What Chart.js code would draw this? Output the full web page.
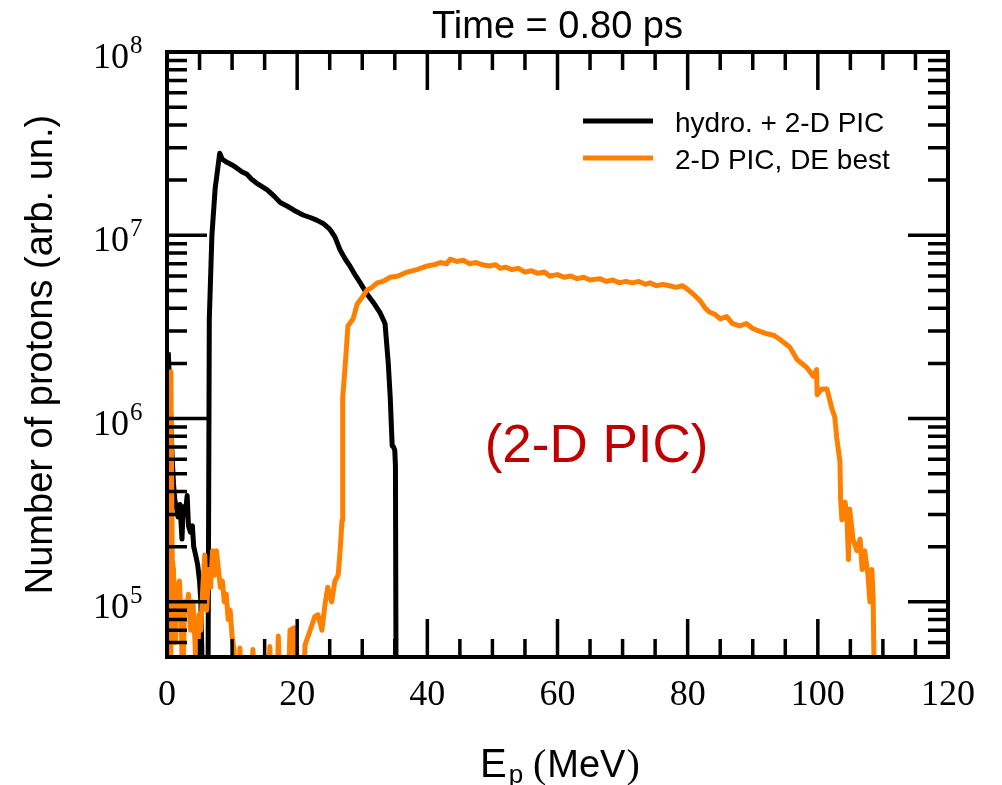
<!DOCTYPE html>
<html>
<head>
<meta charset="utf-8">
<title>Proton spectrum</title>
<script src="https://cdn.jsdelivr.net/npm/chart.js@4.4.0/dist/chart.umd.min.js"></script>
<style>
  html, body { margin: 0; padding: 0; background: #fff; }
  canvas { display: block; }
</style>
</head>
<body>
<canvas id="spectrum" width="1002" height="785"></canvas>
<script>
// energies in MeV, counts in arb. units (values below the axis floor are clipped)
const hydroE = [
  0.2, 0.5, 0.8, 1.0, 1.2, 1.5, 1.7, 2.0, 2.3, 2.5,
  2.8, 3.1, 3.3, 3.6, 3.9, 4.1, 4.4, 4.7, 5.0, 5.2,
  5.5, 6.3, 6.5, 6.9, 7.4, 8.1, 8.5, 9.2, 10.0, 10.7,
  11.5, 12.3, 13.0, 14.0, 15.4, 16.5, 17.4, 18.5, 19.5, 20.9,
  22.0, 23.0, 24.0, 25.0, 25.8, 26.6, 27.4, 28.1, 29.0, 29.7,
  30.7, 31.7, 32.7, 33.5, 34.0, 34.3, 34.6, 34.8, 35.0, 35.1,
  35.2
];
const hydroN = [
  2.3e6, 1.2e6, 6.0e5, 4.4e5, 3.6e5, 3.2e5, 2.9e5, 3.4e5, 2.2e5, 3.3e5,
  3.0e5, 3.8e5, 2.6e5, 2.4e5, 2.6e5, 2.0e5, 1.8e5, 1.6e5, 1.3e5, 1.0e5,
  3e4, 3e4, 3.5e6, 1.0e7, 1.8e7, 2.8e7, 2.6e7, 2.5e7, 2.42e7, 2.33e7,
  2.22e7, 2.15e7, 2.02e7, 1.9e7, 1.77e7, 1.63e7, 1.51e7, 1.44e7, 1.37e7, 1.29e7,
  1.25e7, 1.21e7, 1.16e7, 1.08e7, 9.8e6, 8.3e6, 7.4e6, 6.8e6, 6.0e6, 5.5e6,
  4.8e6, 4.3e6, 3.8e6, 3.3e6, 2.0e6, 1.3e6, 7.1e5, 7.0e5, 6.7e5, 5.5e5,
  3e4
];

const picE = [
  0.2, 0.5, 0.6, 0.8, 1.0, 1.3, 1.6, 1.9, 2.2, 2.4,
  2.7, 3.0, 3.3, 3.6, 4.0, 4.3, 4.6, 4.9, 5.2, 5.5,
  5.8, 6.1, 6.4, 6.7, 7.0, 7.3, 7.6, 7.9, 8.2, 8.5,
  8.8, 9.1, 9.4, 9.7, 10.0, 10.3, 10.6, 11.0, 11.2, 11.5,
  12.8, 13.2, 13.5, 15.5, 15.8, 16.1, 16.9, 17.1, 17.4, 18.6,
  18.9, 19.5, 19.8, 21.0, 21.2, 22.0, 22.7, 23.2, 23.8, 24.3,
  24.7, 25.3, 25.8, 26.3, 26.6, 26.9, 27.0, 27.4, 27.8, 28.6,
  29.2, 30.0, 30.7, 31.5, 32.3, 33.2, 34.3, 35.5, 36.9, 38.4,
  40.0, 41.0, 42.0, 43.0, 43.5, 44.5, 45.5, 46.5, 47.5, 48.5,
  49.5, 50.5, 51.2, 52.0, 53.0, 54.0, 55.0, 56.0, 57.0, 58.0,
  58.8, 60.0, 61.0, 62.0, 63.0, 64.0, 65.0, 66.5, 67.5, 68.5,
  69.5, 70.5, 71.5, 72.5, 73.5, 74.2, 75.2, 76.2, 77.2, 78.2,
  79.2, 79.9, 80.8, 81.9, 82.7, 83.4, 84.2, 85.0, 86.0, 86.9,
  88.0, 89.0, 90.0, 91.0, 92.2, 93.2, 94.2, 95.7, 96.8, 98.3,
  99.3, 99.8, 99.9, 100.6, 101.4, 102.2, 102.6, 102.9, 103.4, 103.5,
  103.7, 104.2, 104.5, 104.7, 104.9, 105.4, 106.0, 106.5, 106.8, 107.2,
  107.7, 108.0, 108.3, 108.5, 108.7
];
const picN = [
  3e4, 3e4, 1.8e6, 1.7e5, 1.5e5, 6e4, 1.2e5, 1.3e5, 8e4, 3e4,
  1.0e5, 9e4, 1.1e5, 7e4, 1.0e5, 6e4, 3e4, 8.5e4, 7e4, 1.2e5,
  1.8e5, 9e4, 1.5e5, 1.2e5, 1.9e5, 1.4e5, 1.9e5, 1.5e5, 1.2e5, 1.3e5,
  1.0e5, 1.1e5, 8e4, 9e4, 6.5e4, 5.5e4, 3e4, 3e4, 5.6e4, 3e4,
  3e4, 5.5e4, 3e4, 3e4, 5.7e4, 3e4, 3e4, 6.5e4, 3e4, 3e4,
  7e4, 7.2e4, 3e4, 3e4, 5.8e4, 7e4, 8.3e4, 8.5e4, 7e4, 9.8e4,
  1.2e5, 1.0e5, 1.3e5, 1.4e5, 1.9e5, 2.8e5, 1.3e6, 2.0e6, 3.2e6, 3.5e6,
  4.2e6, 4.6e6, 5.0e6, 5.2e6, 5.5e6, 5.6e6, 5.9e6, 6.0e6, 6.3e6, 6.5e6,
  6.8e6, 6.9e6, 7.1e6, 7.0e6, 7.4e6, 7.2e6, 7.3e6, 7.0e6, 7.1e6, 6.9e6,
  6.8e6, 6.9e6, 6.6e6, 6.7e6, 6.5e6, 6.6e6, 6.3e6, 6.4e6, 6.2e6, 6.3e6,
  6.0e6, 6.1e6, 5.9e6, 6.0e6, 5.8e6, 5.9e6, 5.7e6, 5.8e6, 5.6e6, 5.7e6,
  5.5e6, 5.6e6, 5.5e6, 5.6e6, 5.4e6, 5.5e6, 5.3e6, 5.4e6, 5.3e6, 5.2e6,
  5.3e6, 5.1e6, 4.8e6, 4.4e6, 4.0e6, 3.8e6, 3.7e6, 3.5e6, 3.6e6, 3.3e6,
  3.2e6, 3.3e6, 3.1e6, 3.0e6, 2.9e6, 2.85e6, 2.7e6, 2.45e6, 2.1e6, 1.9e6,
  1.7e6, 1.85e6, 1.35e6, 1.45e6, 1.45e6, 1.12e6, 1.02e6, 7.9e5, 5.8e5, 3.6e5,
  2.8e5, 3.5e5, 2.7e5, 1.7e5, 3.2e5, 2.2e5, 1.9e5, 2.2e5, 1.5e5, 1.9e5,
  1.4e5, 1.0e5, 1.5e5, 1.05e5, 3e4
];

const seriesLabels = ['hydro. + 2-D PIC', '2-D PIC, DE best'];
const seriesColors = ['#000000', '#ff8000'];
const xTickValues = [0, 20, 40, 60, 80, 100, 120];
const yDecades = [1e5, 1e6, 1e7, 1e8];
const yExponents = ['5', '6', '7', '8'];
const yMin = 5e4, yMax = 1e8;

const SANS = '"Liberation Sans", Arial, sans-serif';
const SERIF = '"Liberation Serif", "Times New Roman", serif';

const decorations = {
  id: 'decorations',
  afterDatasetsDraw(chart) {
    const { ctx, chartArea: area, scales: { x, y } } = chart;
    ctx.save();

    // inward ticks on all four sides
    ctx.strokeStyle = '#000';
    ctx.lineWidth = 3.5;
    ctx.beginPath();
    for (let v = 0; v <= 120; v += 5) {
      const px = x.getPixelForValue(v);
      const len = xTickValues.includes(v) ? 38 : 18;
      ctx.moveTo(px, area.bottom); ctx.lineTo(px, area.bottom - len);
      ctx.moveTo(px, area.top); ctx.lineTo(px, area.top + len);
    }
    for (let dec = 1e4; dec <= 1e8; dec *= 10) {
      for (let m = 1; m <= 9; m++) {
        const v = dec * m;
        if (v <= yMin || v > yMax) continue;
        const py = y.getPixelForValue(v);
        const len = m === 1 ? 40 : 20;
        ctx.moveTo(area.left, py); ctx.lineTo(area.left + len, py);
        ctx.moveTo(area.right, py); ctx.lineTo(area.right - len, py);
      }
    }
    ctx.stroke();

    // frame
    ctx.lineWidth = 4;
    ctx.strokeRect(area.left, area.top, area.right - area.left, area.bottom - area.top);

    // y tick labels 10^n
    ctx.fillStyle = '#000';
    ctx.textBaseline = 'alphabetic';
    yDecades.forEach((v, i) => {
      const py = y.getPixelForValue(v);
      ctx.font = '36px ' + SERIF;
      ctx.textAlign = 'right';
      ctx.fillText('10', 129, py + 16);
      ctx.font = '25px ' + SERIF;
      ctx.textAlign = 'left';
      ctx.fillText(yExponents[i], 130, py + 1);
    });

    // title
    ctx.font = '38px ' + SANS;
    ctx.textAlign = 'center';
    ctx.fillText('Time = 0.80 ps', (area.left + area.right) / 2, 38);

    // x axis title: E_p (MeV)
    ctx.textAlign = 'left';
    let cx = 480;
    ctx.font = '40px ' + SANS;
    ctx.fillText('E', cx, 777);
    cx += ctx.measureText('E').width + 2;
    ctx.font = '26px ' + SANS;
    ctx.fillText('p', cx, 783);
    cx = 533;
    ctx.font = '40px ' + SERIF;
    ctx.fillText('(', cx, 777);
    cx += ctx.measureText('(').width + 1;
    ctx.font = '38px ' + SANS;
    ctx.fillText('MeV', cx, 777);
    cx += ctx.measureText('MeV').width + 1;
    ctx.font = '40px ' + SERIF;
    ctx.fillText(')', cx, 777);

    // legend
    ctx.font = '28px ' + SANS;
    seriesLabels.forEach((label, i) => {
      const ly = 121 + i * 37;
      ctx.strokeStyle = seriesColors[i];
      ctx.lineWidth = 5;
      ctx.beginPath();
      ctx.moveTo(583, ly); ctx.lineTo(653, ly);
      ctx.stroke();
      ctx.fillStyle = '#000';
      ctx.fillText(label, 675, ly + 11);
    });

    // annotation
    ctx.font = '53px ' + SANS;
    ctx.fillStyle = '#c00000';
    ctx.textAlign = 'center';
    ctx.fillText('(2-D PIC)', x.getPixelForValue(66), 462);

    ctx.restore();
  }
};

new Chart(document.getElementById('spectrum'), {
  type: 'line',
  data: {
    datasets: [
      {
        label: seriesLabels[0],
        data: hydroE.map((e, i) => ({ x: e, y: hydroN[i] })),
        borderColor: seriesColors[0],
        borderWidth: 5,
        order: 2
      },
      {
        label: seriesLabels[1],
        data: picE.map((e, i) => ({ x: e, y: picN[i] })),
        borderColor: seriesColors[1],
        borderWidth: 5,
        order: 1
      }
    ]
  },
  options: {
    responsive: false,
    animation: false,
    events: [],
    layout: { padding: { top: 52, right: 54, bottom: 0, left: 0 } },
    elements: {
      point: { radius: 0 },
      line: { tension: 0, borderJoinStyle: 'round', fill: false }
    },
    plugins: {
      legend: { display: false },
      tooltip: { enabled: false }
    },
    scales: {
      x: {
        type: 'linear',
        min: 0,
        max: 120,
        grid: { display: false, drawTicks: false },
        border: { display: false },
        ticks: {
          stepSize: 20,
          autoSkip: false,
          maxRotation: 0,
          padding: 17,
          color: '#000',
          font: { family: SERIF, size: 36 }
        },
        afterFit: (scale) => { scale.height = 128; }
      },
      y: {
        type: 'logarithmic',
        min: yMin,
        max: yMax,
        grid: { display: false, drawTicks: false },
        border: { display: false },
        ticks: { display: false },
        title: {
          display: true,
          text: 'Number of protons (arb. un.)',
          color: '#000',
          font: { family: SANS, size: 38 },
          padding: { top: 19, bottom: 0 }
        },
        afterFit: (scale) => { scale.width = 167; }
      }
    }
  },
  plugins: [decorations]
});
</script>
</body>
</html>
